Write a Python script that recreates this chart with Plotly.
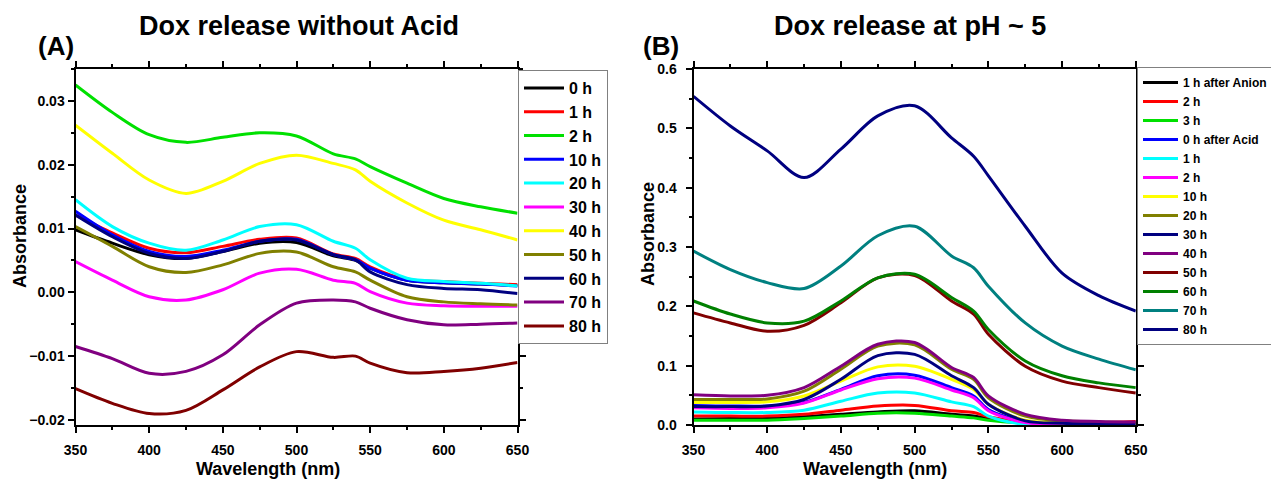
import plotly.graph_objects as go

# ---------- data ----------
wavelength = [350, 375, 400, 425, 450, 475, 500, 525, 540, 550, 575, 600, 625, 650]

# Panel A: Dox release without Acid
labels_a = ["0 h", "1 h", "2 h", "10 h", "20 h", "30 h", "40 h", "50 h", "60 h", "70 h", "80 h"]
colors_a = ["#000000", "#FF0000", "#00E000", "#0000FF", "#00FFFF", "#FF00FF",
            "#FFFF00", "#808000", "#000080", "#800080", "#800000"]
a_0h  = [0.0098, 0.0077, 0.0059, 0.0053, 0.0064, 0.0077, 0.0078, 0.0057, 0.0050, 0.0038, 0.0019, 0.0015, 0.0013, 0.0011]
a_1h  = [0.0121, 0.0093, 0.0069, 0.0062, 0.0072, 0.0083, 0.0085, 0.0060, 0.0053, 0.0040, 0.0020, 0.0017, 0.0014, 0.0012]
a_2h  = [0.0325, 0.0282, 0.0247, 0.0235, 0.0243, 0.0250, 0.0245, 0.0217, 0.0209, 0.0197, 0.0171, 0.0147, 0.0134, 0.0124]
a_10h = [0.0127, 0.0090, 0.0064, 0.0056, 0.0066, 0.0080, 0.0083, 0.0059, 0.0051, 0.0038, 0.0019, 0.0015, 0.0013, 0.0010]
a_20h = [0.0145, 0.0103, 0.0077, 0.0066, 0.0082, 0.0103, 0.0106, 0.0080, 0.0069, 0.0051, 0.0022, 0.0017, 0.0014, 0.0010]
a_30h = [0.0048, 0.0019, -0.0007, -0.0012, 0.0004, 0.0030, 0.0036, 0.0019, 0.0014, 0.0001, -0.0017, -0.0021, -0.0022, -0.0022]
a_40h = [0.0262, 0.0218, 0.0176, 0.0155, 0.0174, 0.0202, 0.0215, 0.0202, 0.0192, 0.0174, 0.0140, 0.0113, 0.0098, 0.0082]
a_50h = [0.0103, 0.0072, 0.0040, 0.0031, 0.0043, 0.0061, 0.0063, 0.0040, 0.0032, 0.0019, -0.0007, -0.0015, -0.0018, -0.0020]
a_60h = [0.0121, 0.0087, 0.0061, 0.0053, 0.0064, 0.0080, 0.0082, 0.0059, 0.0051, 0.0032, 0.0012, 0.0006, 0.0004, -0.0002]
a_70h = [-0.0085, -0.0104, -0.0127, -0.0124, -0.0098, -0.0051, -0.0017, -0.0012, -0.0015, -0.0025, -0.0043, -0.0051, -0.0050, -0.0048]
a_80h = [-0.0151, -0.0174, -0.0190, -0.0185, -0.0153, -0.0117, -0.0093, -0.0102, -0.0100, -0.0111, -0.0126, -0.0124, -0.0119, -0.0110]
series_a = [a_0h, a_1h, a_2h, a_10h, a_20h, a_30h, a_40h, a_50h, a_60h, a_70h, a_80h]

# Panel B: Dox release at pH ~ 5
labels_b = ["1 h after Anion", "2 h", "3 h", "0 h after Acid", "1 h", "2 h", "10 h",
            "20 h", "30 h", "40 h", "50 h", "60 h", "70 h", "80 h"]
colors_b = ["#000000", "#FF0000", "#00E000", "#0000FF", "#00FFFF", "#FF00FF", "#FFFF00",
            "#808000", "#000080", "#800080", "#800000", "#008000", "#008080", "#000080"]
b_1h_anion = [0.010, 0.011, 0.011, 0.014, 0.018, 0.022, 0.024, 0.018, 0.015, 0.011, 0.005, 0.004, 0.003, 0.003]
b_2h_an    = [0.015, 0.015, 0.015, 0.018, 0.025, 0.032, 0.033, 0.024, 0.021, 0.014, 0.005, 0.004, 0.004, 0.006]
b_3h_an    = [0.008, 0.008, 0.008, 0.011, 0.015, 0.020, 0.020, 0.015, 0.012, 0.008, 0.003, 0.002, 0.002, 0.002]
b_0h_acid  = [0.033, 0.032, 0.032, 0.038, 0.060, 0.083, 0.084, 0.063, 0.049, 0.026, 0.005, 0.001, 0.001, 0.001]
b_1h       = [0.022, 0.021, 0.021, 0.025, 0.040, 0.054, 0.054, 0.039, 0.031, 0.015, 0.001, 0.000, 0.000, 0.000]
b_2h       = [0.029, 0.028, 0.029, 0.037, 0.059, 0.078, 0.079, 0.059, 0.046, 0.024, 0.004, 0.001, 0.001, 0.001]
b_10h      = [0.038, 0.038, 0.039, 0.049, 0.074, 0.098, 0.099, 0.077, 0.060, 0.035, 0.008, 0.004, 0.003, 0.002]
b_20h      = [0.043, 0.043, 0.044, 0.057, 0.094, 0.133, 0.135, 0.094, 0.077, 0.046, 0.015, 0.007, 0.005, 0.004]
b_30h      = [0.031, 0.031, 0.032, 0.043, 0.077, 0.117, 0.119, 0.083, 0.063, 0.035, 0.007, 0.003, 0.002, 0.002]
b_40h      = [0.051, 0.049, 0.050, 0.063, 0.099, 0.136, 0.139, 0.097, 0.080, 0.049, 0.018, 0.008, 0.006, 0.005]
b_50h      = [0.189, 0.172, 0.158, 0.168, 0.206, 0.248, 0.252, 0.209, 0.187, 0.153, 0.099, 0.074, 0.063, 0.054]
b_60h      = [0.209, 0.187, 0.172, 0.175, 0.209, 0.248, 0.254, 0.215, 0.192, 0.161, 0.108, 0.083, 0.071, 0.063]
b_70h      = [0.293, 0.262, 0.240, 0.230, 0.268, 0.319, 0.335, 0.285, 0.265, 0.234, 0.172, 0.133, 0.111, 0.093]
b_80h      = [0.554, 0.504, 0.462, 0.417, 0.465, 0.521, 0.538, 0.484, 0.453, 0.420, 0.335, 0.256, 0.218, 0.192]
series_b = [b_1h_anion, b_2h_an, b_3h_an, b_0h_acid, b_1h, b_2h, b_10h, b_20h, b_30h,
            b_40h, b_50h, b_60h, b_70h, b_80h]

# ---------- figure ----------
W, H = 1271, 479
FONT = "Liberation Sans, Arial, sans-serif"

fig = go.Figure()
for lab, col, ys in zip(labels_a, colors_a, series_a):
    fig.add_trace(go.Scatter(x=wavelength, y=ys, mode="lines", name=lab,
                             line=dict(color=col, width=3, shape="spline", smoothing=0.9),
                             xaxis="x", yaxis="y", legend="legend"))
for lab, col, ys in zip(labels_b, colors_b, series_b):
    fig.add_trace(go.Scatter(x=wavelength, y=ys, mode="lines", name=lab,
                             line=dict(color=col, width=3, shape="spline", smoothing=0.9),
                             xaxis="x2", yaxis="y2", legend="legend2"))

def px_x(p):
    return p / W

def px_y(p):
    return 1 - p / H

ydom = [px_y(425), px_y(69)]
axis_common = dict(showline=True, linecolor="black", linewidth=2, mirror="allticks",
                   ticks="outside", ticklen=6, tickwidth=2, tickcolor="black",
                   showgrid=False, zeroline=False, automargin=False,
                   tickfont=dict(family=FONT, size=14, color="black", weight="bold"))
minor_x = dict(ticks="outside", ticklen=3, tickwidth=1.5, tickcolor="black", dtick=25, showgrid=False)

fig.update_layout(
    width=W, height=H, margin=dict(l=0, r=0, t=0, b=0, autoexpand=False),
    paper_bgcolor="white", plot_bgcolor="white", showlegend=True,
    xaxis=dict(domain=[px_x(75.5), px_x(517.5)], range=[350, 650], tickvals=[350, 400, 450, 500, 550, 600, 650],
               anchor="y", minor=minor_x, ticklabelstandoff=5, **axis_common),
    yaxis=dict(domain=ydom, range=[-0.0208, 0.035], tickvals=[-0.02, -0.01, 0.0, 0.01, 0.02, 0.03],
               tickformat=".2f", anchor="x",
               minor=dict(ticks="outside", ticklen=3, tickwidth=1.5, tickcolor="black", dtick=0.005, showgrid=False),
               **axis_common),
    xaxis2=dict(domain=[px_x(693.5), px_x(1135.8)], range=[350, 650], tickvals=[350, 400, 450, 500, 550, 600, 650],
                anchor="y2", minor=minor_x, ticklabelstandoff=5, **axis_common),
    yaxis2=dict(domain=ydom, range=[0, 0.6], tickvals=[0, 0.1, 0.2, 0.3, 0.4, 0.5, 0.6],
                tickformat=".1f", anchor="x2", ticklabelstandoff=6,
                minor=dict(ticks="outside", ticklen=3, tickwidth=1.5, tickcolor="black", dtick=0.05, showgrid=False),
                **axis_common),
    legend=dict(x=px_x(518), y=px_y(70), xanchor="left", yanchor="top", xref="container", yref="container",
                bgcolor="white", bordercolor="#808080", borderwidth=1, itemwidth=40, maxheight=460,
                font=dict(family=FONT, size=16, color="black", weight="bold"), tracegroupgap=0),
    legend2=dict(x=px_x(1137), y=px_y(67), xanchor="left", yanchor="top", xref="container", yref="container",
                 bgcolor="white", bordercolor="#808080", borderwidth=1, itemwidth=35, maxheight=460,
                 font=dict(family=FONT, size=12, color="black", weight="bold"), tracegroupgap=0),
)

ann = []
def add_text(text, x, y, size, angle=0):
    ann.append(dict(text=text, x=px_x(x), y=px_y(y), xref="paper", yref="paper",
                    showarrow=False, textangle=angle, xanchor="center", yanchor="middle",
                    font=dict(family=FONT, size=size, color="black", weight="bold")))

add_text("Dox release without Acid", 299, 26, 27)
add_text("(A)", 56, 46, 26)
add_text("Dox release at pH ~ 5", 910, 26, 27)
add_text("(B)", 661, 46, 26)
add_text("Wavelength (nm)", 268, 469, 18)
add_text("Wavelength (nm)", 875, 469, 18)
add_text("Absorbance", 20, 236, 18, -90)
add_text("Absorbance", 648, 234, 18, -90)
fig.update_layout(annotations=ann)

fig.write_html("out.html")
